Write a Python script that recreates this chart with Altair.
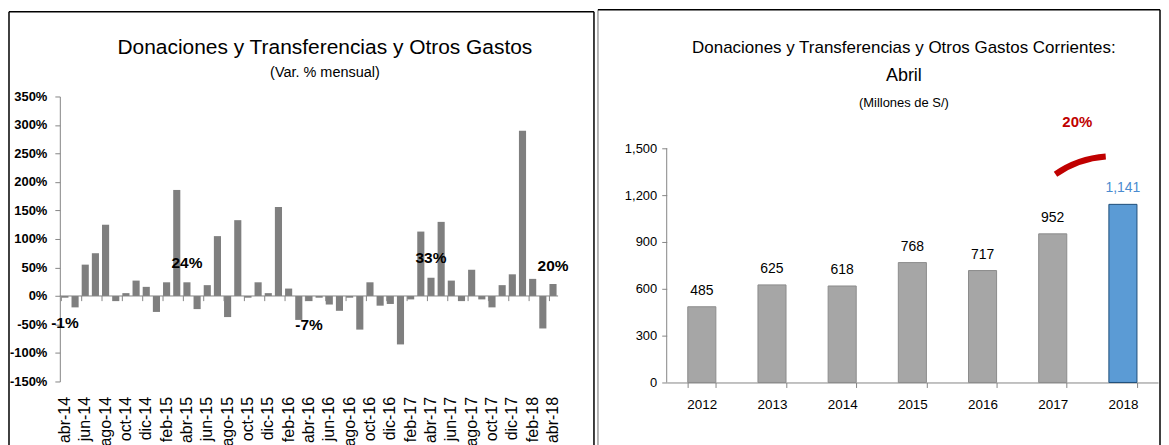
import altair as alt
import pandas as pd

# ---------------- data ----------------
meses = [
    "abr-14", "may-14", "jun-14", "jul-14", "ago-14", "sep-14", "oct-14", "nov-14", "dic-14",
    "ene-15", "feb-15", "mar-15", "abr-15", "may-15", "jun-15", "jul-15", "ago-15", "sep-15",
    "oct-15", "nov-15", "dic-15", "ene-16", "feb-16", "mar-16", "abr-16", "may-16", "jun-16",
    "jul-16", "ago-16", "sep-16", "oct-16", "nov-16", "dic-16", "ene-17", "feb-17", "mar-17",
    "abr-17", "may-17", "jun-17", "jul-17", "ago-17", "sep-17", "oct-17", "nov-17", "dic-17",
    "ene-18", "feb-18", "mar-18", "abr-18",
]
var_mensual = [
    -3, -20, 55, 75, 125, -9, 5, 27, 16,
    -28, 24, 186, 24, -23, 19, 105, -37, 133,
    -3, 24, 5, 156, 13, -42, -9, -3, -15,
    -26, -3, -59, 24, -17, -14, -85, -6, 113,
    32, 130, 27, -9, 46, -6, -20, 19, 38,
    290, 30, -57, 21,
]
etiquetas_mes = meses[::2]

# April year-on-year change annotations (text and the value level where each sits)
anual_mes = ["abr-14", "abr-15", "abr-16", "abr-17", "abr-18"]
anual_txt = ["-1%", "24%", "-7%", "33%", "20%"]
anual_y = [-47, 58, -51, 66, 52]

anios = ["2012", "2013", "2014", "2015", "2016", "2017", "2018"]
montos = [485, 625, 618, 768, 717, 952, 1141]
tipo = ["hist", "hist", "hist", "hist", "hist", "hist", "actual"]

SANS = "Liberation Sans"
GRAY_AX = "#868686"


def one(**kw):
    return pd.DataFrame({k: [v] for k, v in kw.items()})


# ---------------- left chart ----------------
W1, H1 = 500, 286
df1 = pd.DataFrame({"mes": meses, "var": var_mensual})
df_ticks = pd.DataFrame({"mes": etiquetas_mes})
df_ann = pd.DataFrame({"mes": anual_mes, "txt": anual_txt, "pos": anual_y})

xscale1 = alt.Scale(domain=meses, paddingInner=0.3, paddingOuter=0.15)
yscale1 = alt.Scale(domain=[-150, 350], nice=False)
xaxis1 = alt.Axis(values=etiquetas_mes, labelAngle=270, domain=False, ticks=False,
                  labelFont=SANS, labelFontSize=16, labelColor="#000000",
                  labelPadding=15, labelOverlap=False, title=None)
yaxis1 = alt.Axis(values=list(range(-150, 351, 50)), labelExpr="datum.value + '%'",
                  grid=False, domainColor=GRAY_AX, tickColor=GRAY_AX, tickSize=5,
                  labelFont=SANS, labelFontWeight="bold", labelFontSize=13,
                  labelColor="#000000", labelPadding=8, labelOverlap=False, title=None)

bars1 = alt.Chart(df1).mark_bar(color="#7F7F7F").encode(
    x=alt.X("mes:N", scale=xscale1, sort=meses, axis=xaxis1),
    y=alt.Y("var:Q", scale=yscale1, axis=yaxis1),
)
zero1 = alt.Chart(one(v=0)).mark_rule(color=GRAY_AX, strokeWidth=1).encode(
    y=alt.Y("v:Q", scale=yscale1, axis=yaxis1))
ticks1 = alt.Chart(df_ticks.assign(a=0, b=-9)).mark_rule(color=GRAY_AX, strokeWidth=1).encode(
    x=alt.X("mes:N", scale=xscale1, bandPosition=0, axis=xaxis1),
    y=alt.Y("a:Q", scale=yscale1, axis=yaxis1), y2="b:Q",
)
ann1 = alt.Chart(df_ann).mark_text(font=SANS, fontSize=15.5, fontWeight="bold", color="#000000").encode(
    x=alt.X("mes:N", scale=xscale1, axis=xaxis1),
    y=alt.Y("pos:Q", scale=yscale1, axis=yaxis1),
    text="txt:N")

title1 = alt.Chart(one(t="Donaciones  y  Transferencias  y  Otros  Gastos")).mark_text(
    font=SANS, fontSize=21, color="#000000").encode(text="t:N", x=alt.value(266), y=alt.value(-49))
sub1 = alt.Chart(one(t="(Var. % mensual)")).mark_text(
    font=SANS, fontSize=14.5, color="#000000").encode(text="t:N", x=alt.value(266), y=alt.value(-24))

L1, T1, R1, B1 = -51, -85, 536, 360
border1 = alt.Chart(one(a=1)).mark_rule(color="#000000", strokeWidth=1.5)
bl1 = border1.encode(x=alt.value(L1), y=alt.value(T1), y2=alt.value(B1))
bt1 = border1.encode(x=alt.value(L1), x2=alt.value(R1), y=alt.value(T1))
br1 = border1.encode(x=alt.value(R1), y=alt.value(T1), y2=alt.value(B1))

left = alt.layer(bars1, zero1, ticks1, ann1, title1, sub1, bl1, bt1, br1).properties(width=W1, height=H1)

# ---------------- right chart ----------------
W2, H2 = 493, 287
YTOP2 = 1832  # value at the top of the shared plot height (axis shown to 1,500)
df2 = pd.DataFrame({"anio": anios, "monto": montos, "tipo": tipo})
xscale2 = alt.Scale(domain=anios, paddingInner=0.6, paddingOuter=0.3)
yscale2 = alt.Scale(domain=[0, YTOP2], nice=False)
xaxis2 = alt.Axis(labelAngle=0, domainColor=GRAY_AX, tickColor=GRAY_AX, tickBand="extent",
                  tickSize=5, labelFont=SANS, labelFontSize=13.5, labelColor="#000000",
                  labelPadding=10, title=None)
yaxis2 = alt.Axis(values=[0, 300, 600, 900, 1200, 1500], labelExpr="format(datum.value, ',')",
                  grid=False, domain=False, tickColor=GRAY_AX, tickSize=5,
                  labelFont=SANS, labelFontSize=13, labelColor="#000000",
                  labelPadding=5, labelOverlap=False, title=None)
es_actual = alt.datum.tipo == "actual"

bars2 = alt.Chart(df2).mark_bar(strokeWidth=1).encode(
    x=alt.X("anio:N", scale=xscale2, axis=xaxis2),
    y=alt.Y("monto:Q", scale=yscale2, axis=yaxis2),
    fill=alt.condition(es_actual, alt.value("#5B9BD5"), alt.value("#A6A6A6")),
    stroke=alt.condition(es_actual, alt.value("#1F4E79"), alt.value("#8C8C8C")),
)
yline2 = alt.Chart(one(a=0, b=1500)).mark_rule(color=GRAY_AX, strokeWidth=1).encode(
    x=alt.value(0), y=alt.Y("a:Q", scale=yscale2, axis=yaxis2), y2="b:Q")
lab2 = alt.Chart(df2).mark_text(font=SANS, fontSize=14, baseline="bottom", dy=-9).encode(
    x=alt.X("anio:N", scale=xscale2, axis=xaxis2),
    y=alt.Y("monto:Q", scale=yscale2, axis=yaxis2),
    text=alt.Text("monto:Q", format=","),
    color=alt.condition(es_actual, alt.value("#4A8BD0"), alt.value("#000000")),
)
t2a = alt.Chart(one(t="Donaciones  y  Transferencias  y  Otros  Gastos  Corrientes:")).mark_text(
    font=SANS, fontSize=17, color="#000000").encode(text="t:N", x=alt.value(238), y=alt.value(-49))
t2b = alt.Chart(one(t="Abril")).mark_text(
    font=SANS, fontSize=18, color="#000000").encode(text="t:N", x=alt.value(238), y=alt.value(-21))
sub2 = alt.Chart(one(t="(Millones de S/)")).mark_text(
    font=SANS, fontSize=13, color="#000000").encode(text="t:N", x=alt.value(238), y=alt.value(7))
pct2 = alt.Chart(one(t="20%")).mark_text(
    font=SANS, fontSize=15, fontWeight="bold", color="#C00000").encode(text="t:N", x=alt.value(412), y=alt.value(26))
arc2 = alt.Chart(one(a=1)).mark_arc(color="#C00000", theta=5.68, theta2=6.21, radius=105, radius2=99).encode(
    x=alt.value(448), y=alt.value(162))

L2, T2, R2, B2 = -69, -87, 495, 360
bl2 = alt.Chart(one(a=1)).mark_rule(color="#A0A0A0", strokeWidth=1.5).encode(
    x=alt.value(L2), y=alt.value(T2), y2=alt.value(B2))
bt2 = alt.Chart(one(a=1)).mark_rule(color="#000000", strokeWidth=1.5).encode(
    x=alt.value(L2), x2=alt.value(R2), y=alt.value(T2))
br2 = alt.Chart(one(a=1)).mark_rule(color="#000000", strokeWidth=1.5).encode(
    x=alt.value(R2), y=alt.value(T2), y2=alt.value(B2))

right = alt.layer(bars2, yline2, lab2, t2a, t2b, sub2, pct2, arc2, bl2, bt2, br2).properties(width=W2, height=H2)

chart = alt.hconcat(left, right, spacing=2).properties(padding=0, background="#FFFFFF").configure_view(stroke=None)

chart.save("out.html", embed_options={"renderer": "svg", "actions": False})
